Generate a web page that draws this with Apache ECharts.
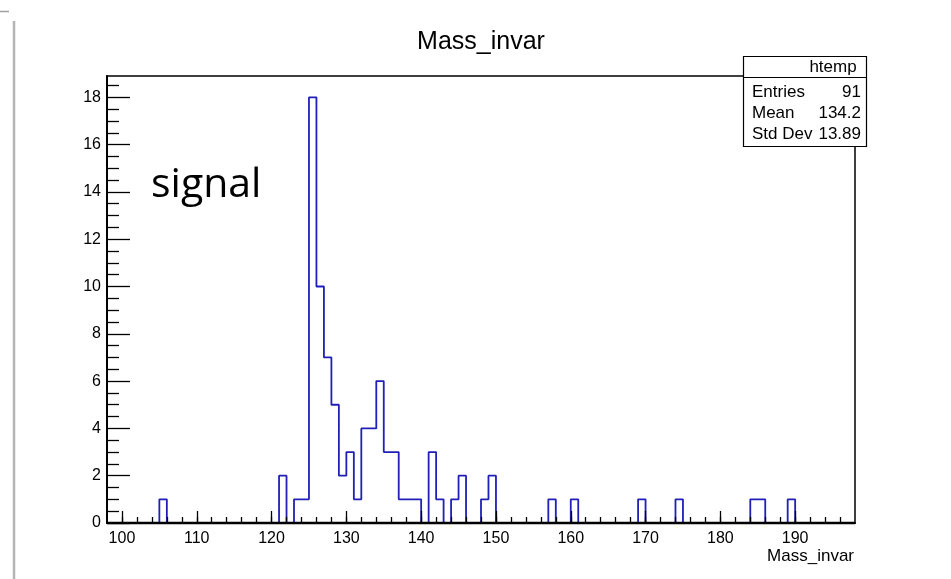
<!DOCTYPE html>
<html><head><meta charset="utf-8">
<script src="https://cdn.jsdelivr.net/npm/echarts@6/dist/echarts.min.js"></script>
<style>html,body{margin:0;padding:0;background:#fff}#c{width:951px;height:579px}</style>
</head><body><div id="c"></div>
<script>
// ---- data ----
const binLow = 98, binHigh = 198, binWidth = 1;
const filledBins   = [105,121,123,124,125,126,127,128,129,130,131,132,133,134,135,136,137,138,139,141,142,144,145,148,149,157,160,169,174,184,185,189];
const filledCounts = [1,  2,  1,  1,  18, 10, 7,  5,  2,  3,  1,  4,  4,  6,  3,  3,  1,  1,  1,  3,  1,  1,  2,  1,  2,  1,  1,  1,  1,  1,  1,  1];
const xMajorTicks = [100,110,120,130,140,150,160,170,180,190];
const xMinorTicks = [100,102,104,106,108,110,112,114,116,118,120,122,124,126,128,130,132,134,136,138,140,142,144,146,148,150,152,154,156,158,160,162,164,166,168,170,172,174,176,178,180,182,184,186,188,190,192,194,196];
const yMajorTicks = [0,2,4,6,8,10,12,14,16,18];
const yMinorTicks = [0.5,1,1.5,2.5,3,3.5,4.5,5,5.5,6.5,7,7.5,8.5,9,9.5,10.5,11,11.5,12.5,13,13.5,14.5,15,15.5,16.5,17,17.5,18.5];
const yMax = 18.9;
const chartTitle = 'Mass_invar';
const xTitle = 'Mass_invar';
const annotation = 'signal';
const statsTitle = 'htemp';
const statsNames = ['Entries','Mean','Std Dev'];
const statsValues = ['91','134.2','13.89'];

// ---- build histogram outline ----
const nBins = Math.round((binHigh - binLow) / binWidth);
const counts = new Array(nBins).fill(0);
filledBins.forEach((b, i) => { counts[Math.round((b - binLow) / binWidth)] = filledCounts[i]; });
const pts = [[binLow, 0]];
for (let i = 0; i < nBins; i++) pts.push([binLow + i * binWidth, counts[i]]);
pts.push([binHigh, counts[nBins - 1]]);
pts.push([binHigh, 0]);

const FONT = '"Liberation Sans", Arial, sans-serif';
const chart = echarts.init(document.getElementById('c'), null, {renderer: 'canvas'});
const GL = 107, GT = 76, GW = 748, GH = 447;

const statsGraphics = [
  {type:'rect', z:100, shape:{x:743.5, y:56.5, width:123, height:90}, style:{fill:'#fff', stroke:'#000', lineWidth:1.2}},
  {type:'line', z:101, shape:{x1:743.5, y1:77.5, x2:866.5, y2:77.5}, style:{stroke:'#000', lineWidth:1.2}},
  {type:'text', z:102, style:{text:statsTitle, x:833, y:67, align:'center', verticalAlign:'middle', font:'17px ' + FONT, fill:'#000'}}
];
const rowY = [92.5, 113.5, 134.5];
statsNames.forEach((n, i) => {
  statsGraphics.push({type:'text', z:102, style:{text:n, x:752, y:rowY[i], align:'left', verticalAlign:'middle', font:'17px ' + FONT, fill:'#000'}});
  statsGraphics.push({type:'text', z:102, style:{text:statsValues[i], x:861, y:rowY[i], align:'right', verticalAlign:'middle', font:'17px ' + FONT, fill:'#000'}});
});

chart.setOption({
  animation: false,
  backgroundColor: '#fff',
  grid: {left: GL, top: GT, width: GW, height: GH, show: true, borderColor: '#000', borderWidth: 1.5, backgroundColor: 'transparent', containLabel: false},
  xAxis: [
    {type:'value', min:binLow, max:binHigh, position:'bottom', z:5,
     axisLine:{show:true, onZero:false, lineStyle:{color:'#000', width:2}},
     axisTick:{show:true, inside:true, length:12, customValues:xMajorTicks, lineStyle:{color:'#000', width:1.3}},
     axisLabel:{show:true, customValues:xMajorTicks, margin:8, fontSize:16, fontFamily:FONT, color:'#000'},
     splitLine:{show:false}},
    {type:'value', min:binLow, max:binHigh, position:'bottom', z:5,
     axisLine:{show:false},
     axisTick:{show:true, inside:true, length:6, customValues:xMinorTicks, lineStyle:{color:'#000', width:1.3}},
     axisLabel:{show:false}, splitLine:{show:false}}
  ],
  yAxis: [
    {type:'value', min:0, max:yMax, position:'left', z:5,
     axisLine:{show:true, onZero:false, lineStyle:{color:'#000', width:2}},
     axisTick:{show:true, inside:true, length:23, customValues:yMajorTicks, lineStyle:{color:'#000', width:1.3}},
     axisLabel:{show:true, customValues:yMajorTicks, margin:6, fontSize:16, fontFamily:FONT, color:'#000'},
     splitLine:{show:false}},
    {type:'value', min:0, max:yMax, position:'left', z:5,
     axisLine:{show:false},
     axisTick:{show:true, inside:true, length:12, customValues:yMinorTicks, lineStyle:{color:'#000', width:1.3}},
     axisLabel:{show:false}, splitLine:{show:false}}
  ],
  series: [{
    type:'line', xAxisIndex:0, yAxisIndex:0, step:'end', symbol:'none', data:pts,
    lineStyle:{color:'#2020b8', width:1.8}, z:1, silent:true
  }],
  graphic: [
    {type:'line', shape:{x1:14, y1:21, x2:14, y2:579}, style:{stroke:'#b4b4b4', lineWidth:2.5}},
    {type:'line', shape:{x1:0, y1:11.5, x2:9, y2:11.5}, style:{stroke:'#a0a0a0', lineWidth:1.5}},
    // x-axis baseline drawn over the histogram's zero level (as ROOT draws the axis last)
    {type:'line', z:50, shape:{x1:GL, y1:GT + GH, x2:GL + GW, y2:GT + GH}, style:{stroke:'#000', lineWidth:2.4}},
    {type:'text', style:{text:chartTitle, x:481, y:42, align:'center', verticalAlign:'middle', font:'25px ' + FONT, fill:'#000'}},
    {type:'text', style:{text:annotation, x:151, y:185, align:'left', verticalAlign:'middle', font:'41px "Open Sans", sans-serif', fill:'#000'}},
    {type:'text', style:{text:xTitle, x:854, y:556, align:'right', verticalAlign:'middle', font:'17px ' + FONT, fill:'#000'}}
  ].concat(statsGraphics)
});
</script></body></html>
